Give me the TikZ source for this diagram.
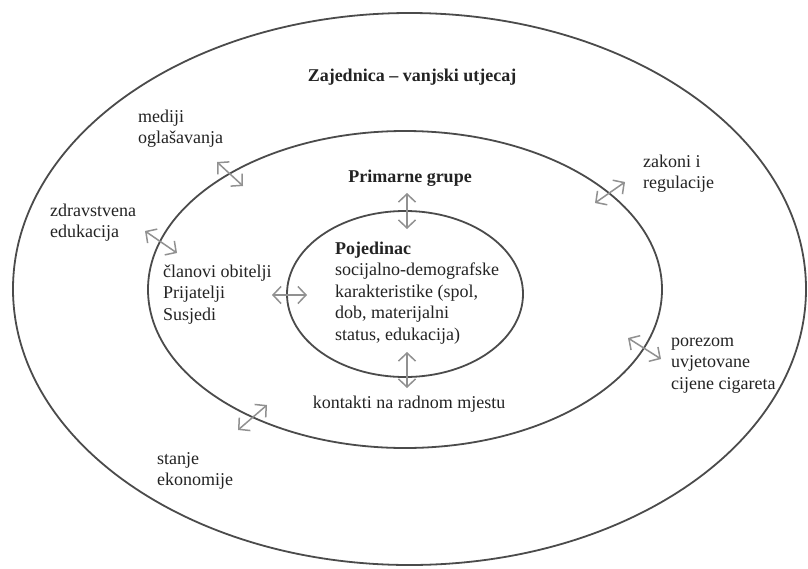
\documentclass[tikz,border=0pt]{standalone}
\usepackage{fontspec}
\setmainfont{Liberation Serif}
\usetikzlibrary{arrows.meta}
\definecolor{ringgray}{RGB}{75,75,75}
\definecolor{arrgray}{RGB}{145,145,145}
\definecolor{txt}{RGB}{35,35,35}
\tikzset{
  ring/.style={draw=ringgray, line width=1.8pt},
  link/.style={draw=arrgray, line width=1.5pt,
    {Straight Barb[length=8pt,width=17pt]}-{Straight Barb[length=8pt,width=17pt]}},
  lbl/.style={font=\fontsize{18}{21.5}\selectfont, text=txt, inner sep=0pt, align=left, anchor=north west},
  ttl/.style={font=\fontsize{18}{21.5}\selectfont\bfseries, text=txt, inner sep=0pt, anchor=base}
}
\begin{document}
\begin{tikzpicture}[x=1pt, y=-1pt]
\useasboundingbox (0,0) rectangle (808,568);
\fill[white] (0,0) rectangle (808,568);

% rings
\coordinate (co) at (409.5,289);
\coordinate (cm) at (405,289.5);
\coordinate (ci) at (405,294);
\draw[ring] (co) ellipse [x radius=396.5pt, y radius=276pt];
\draw[ring] (cm) ellipse [x radius=257pt, y radius=158.5pt];
\draw[ring] (ci) ellipse [x radius=118pt, y radius=83pt];

% titles
\node[ttl] (zaj) at (412,81) {Zajednica -- vanjski utjecaj};
\node[ttl] (prim) at (410,182) {Primarne grupe};

% labels
\node[lbl] (med) at (138,107) {\strut mediji\\oglašavanja};
\node[lbl] (zdr) at (50,201) {\strut zdravstvena\\edukacija};
\node[lbl] (clan) at (163,262) {\strut članovi obitelji\\Prijatelji\\Susjedi};
\node[lbl] (zak) at (643,152) {\strut zakoni i\\regulacije};
\node[lbl] (por) at (671,331) {\strut porezom\\uvjetovane\\cijene cigareta};
\node[lbl] (sta) at (157,449) {\strut stanje\\ekonomije};
\node[lbl] (poj) at (335,239) {\strut\textbf{Pojedinac}\\socijalno-demografske\\karakteristike (spol,\\dob, materijalni\\status, edukacija)};
\node[ttl, font=\fontsize{18}{21.5}\selectfont] (kon) at (409,408) {kontakti na radnom mjestu};

% arrow end points
\coordinate (a1s) at (217,162); \coordinate (a1e) at (243,186);
\coordinate (a2s) at (145,231); \coordinate (a2e) at (177,253);
\coordinate (a3s) at (595,203); \coordinate (a3e) at (625,182);
\coordinate (a4s) at (628,338); \coordinate (a4e) at (661,359);
\coordinate (a5s) at (238,430); \coordinate (a5e) at (267,405);
\coordinate (a6s) at (407,193); \coordinate (a6e) at (407,229);
\coordinate (a7s) at (407,352); \coordinate (a7e) at (407,388);
\coordinate (a8s) at (272,295); \coordinate (a8e) at (307,295);

\draw[link] (a1s) -- (a1e);
\draw[link] (a2s) -- (a2e);
\draw[link] (a3s) -- (a3e);
\draw[link] (a4s) -- (a4e);
\draw[link] (a5s) -- (a5e);
\draw[link] (a6s) -- (a6e);
\draw[link] (a7s) -- (a7e);
\draw[link] (a8s) -- (a8e);
\end{tikzpicture}
\end{document}
